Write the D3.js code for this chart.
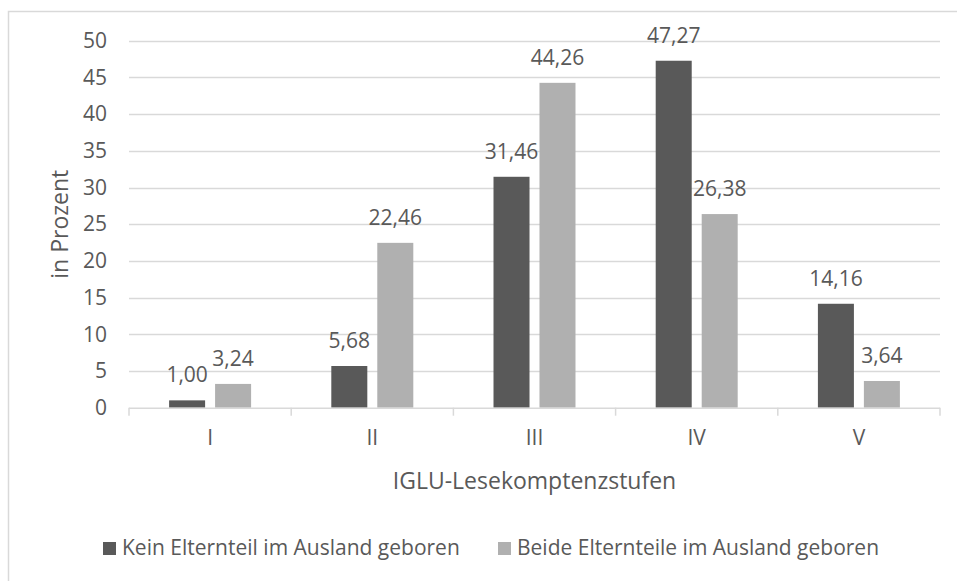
<!DOCTYPE html>
<html>
<head>
<meta charset="utf-8">
<script src="https://cdn.jsdelivr.net/npm/d3@7"></script>
<style>
  body { margin: 0; background: #fff; }
  svg { display: block; }
</style>
</head>
<body>
<div id="chart"></div>
<script>
// values
const stufen = ["I", "II", "III", "IV", "V"];
const serien = ["Kein Elternteil im Ausland geboren", "Beide Elternteile im Ausland geboren"];
const keinElternteil = [1.00, 5.68, 31.46, 47.27, 14.16];
const beideElternteile = [3.24, 22.46, 44.26, 26.38, 3.64];
const yTicks = [0, 5, 10, 15, 20, 25, 30, 35, 40, 45, 50];

const width = 957, height = 581;
const plot = {left: 129, right: 940, top: 40.7, bottom: 407.7};
const font = "'Open Sans', sans-serif";
const textColor = "#595959";
const colors = ["#595959", "#b0b0b0"];

let rows = stufen.map(function(s, i) {
  return {stufe: s, werte: [keinElternteil[i], beideElternteile[i]]};
});

let svg = d3.select("#chart").append("svg")
    .attr("width", width)
    .attr("height", height);

// outer frame, runs off the right and bottom edge like in the picture
svg.append("rect")
    .attr("x", 8.5)
    .attr("y", 11.5)
    .attr("width", 1000)
    .attr("height", 700)
    .attr("fill", "#fff")
    .attr("stroke", "#d9d9d9")
    .attr("stroke-width", 1.5);

let y = d3.scaleLinear()
    .domain([0, 50])
    .range([plot.bottom, plot.top]);

let x0 = d3.scaleBand()
    .domain(stufen)
    .range([plot.left, plot.right])
    .paddingInner(0.4945)
    .paddingOuter(0.4945 / 2);

let x1 = d3.scaleBand()
    .domain([0, 1])
    .range([0, x0.bandwidth()])
    .paddingInner(0.217);

// gridlines
svg.append("g")
  .selectAll("line")
  .data(yTicks.filter(d => d > 0))
  .enter()
  .append("line")
    .attr("x1", plot.left)
    .attr("x2", plot.right)
    .attr("y1", d => Math.round(y(d)) + 0.5)
    .attr("y2", d => Math.round(y(d)) + 0.5)
    .attr("stroke", "#d9d9d9")
    .attr("stroke-width", 1.3);

// y tick labels
let yAxis = svg.append("g")
    .attr("transform", "translate(" + plot.left + ",0)")
    .call(d3.axisLeft(y).tickValues(yTicks).tickSize(0).tickPadding(22));
yAxis.select(".domain").remove();
yAxis.selectAll("text")
    .style("font-family", font)
    .style("font-size", "21px")
    .attr("fill", textColor);

// bars
let groups = svg.append("g")
  .selectAll("g")
  .data(rows)
  .enter()
  .append("g")
    .attr("transform", d => "translate(" + x0(d.stufe) + ",0)");

groups.selectAll("rect")
    .data(d => d.werte.map((v, i) => ({i: i, v: v})))
    .enter()
    .append("rect")
      .attr("x", d => x1(d.i))
      .attr("y", d => y(d.v))
      .attr("width", x1.bandwidth())
      .attr("height", d => y(0) - y(d.v))
      .attr("fill", d => colors[d.i]);

// value labels
groups.selectAll("text")
    .data(d => d.werte.map((v, i) => ({i: i, v: v})))
    .enter()
    .append("text")
      .attr("x", d => x1(d.i) + x1.bandwidth() / 2)
      .attr("y", d => y(d.v) - 18)
      .attr("text-anchor", "middle")
      .style("font-family", font)
      .style("font-size", "21px")
      .attr("fill", textColor)
      .text(d => d3.format(".2f")(d.v).replace(".", ","));

// x axis with ticks between the categories
let xAxis = svg.append("g");
xAxis.append("line")
    .attr("x1", plot.left)
    .attr("x2", plot.right)
    .attr("y1", plot.bottom + 0.5)
    .attr("y2", plot.bottom + 0.5)
    .attr("stroke", "#d9d9d9")
    .attr("stroke-width", 1.5);

let step = x0.step();
xAxis.selectAll(".sep")
    .data(d3.range(stufen.length + 1))
    .enter()
    .append("line")
      .attr("class", "sep")
      .attr("x1", i => plot.left + i * step)
      .attr("x2", i => plot.left + i * step)
      .attr("y1", plot.bottom)
      .attr("y2", plot.bottom + 8)
      .attr("stroke", "#d9d9d9")
      .attr("stroke-width", 1.5);

xAxis.selectAll(".cat")
    .data(stufen)
    .enter()
    .append("text")
      .attr("class", "cat")
      .attr("x", d => x0(d) + x0.bandwidth() / 2)
      .attr("y", 445)
      .attr("text-anchor", "middle")
      .style("font-family", font)
      .style("font-size", "21px")
      .attr("fill", textColor)
      .text(d => d);

// axis titles
svg.append("text")
    .attr("x", (plot.left + plot.right) / 2)
    .attr("y", 489)
    .attr("text-anchor", "middle")
    .style("font-family", font)
    .style("font-size", "23px")
    .attr("fill", textColor)
    .text("IGLU-Lesekomptenzstufen");

svg.append("text")
    .attr("transform", "translate(68," + (plot.top + plot.bottom) / 2 + ") rotate(-90)")
    .attr("text-anchor", "middle")
    .style("font-family", font)
    .style("font-size", "23px")
    .attr("fill", textColor)
    .text("in Prozent");

// legend
let legendX = [103, 498];
let legend = svg.append("g")
  .selectAll("g")
  .data(serien)
  .enter()
  .append("g")
    .attr("transform", (d, i) => "translate(" + legendX[i] + ",542)");

legend.append("rect")
    .attr("width", 13)
    .attr("height", 13)
    .attr("fill", (d, i) => colors[i]);

legend.append("text")
    .attr("x", 19)
    .attr("y", 13)
    .style("font-family", font)
    .style("font-size", "21px")
    .attr("fill", textColor)
    .text(d => d);
</script>
</body>
</html>
